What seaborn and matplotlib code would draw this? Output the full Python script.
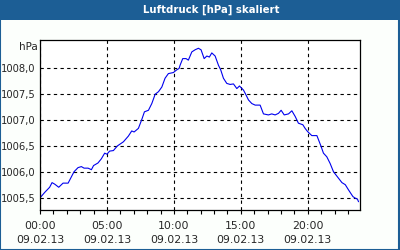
import matplotlib
matplotlib.use("Agg")
import matplotlib.pyplot as plt
import matplotlib.ticker as mticker
from matplotlib.patches import Rectangle
import seaborn as sns
import pandas as pd

title = "Luftdruck [hPa] skaliert"
unit = "hPa"
date_label = "09.02.13"

hours = [0.05, 0.35, 0.72, 0.9, 1.1, 1.4, 1.72, 2.1, 2.34, 2.54, 2.84, 3.09, 3.29, 3.59, 3.84,
         4.0, 4.33, 4.58, 4.83, 5.0, 5.2, 5.48, 5.78, 6.23, 6.6, 6.85, 7.03, 7.35, 7.6, 7.8,
         8.1, 8.35, 8.6, 8.85, 9.1, 9.34, 9.59, 9.96, 10.2, 10.39, 10.46, 10.66, 10.91, 11.08,
         11.34, 11.58, 11.83, 12.03, 12.26, 12.46, 12.65, 12.83, 13.08, 13.33, 13.5, 13.7,
         13.95, 14.2, 14.45, 14.7, 14.9, 15.2, 15.4, 15.57, 15.82, 16.07, 16.44, 16.69, 17.06,
         17.31, 17.56, 17.81, 18.01, 18.24, 18.56, 18.81, 19.06, 19.3, 19.63, 19.8, 19.98,
         20.3, 20.68, 20.98, 21.17, 21.42, 21.67, 21.92, 22.22, 22.55, 22.8, 23.04, 23.37,
         23.54, 23.71, 23.79]
pressure = [1005.51, 1005.60, 1005.70, 1005.79, 1005.76, 1005.70, 1005.78, 1005.78, 1005.90,
            1006.00, 1006.08, 1006.10, 1006.07, 1006.07, 1006.04, 1006.12, 1006.17, 1006.25,
            1006.36, 1006.34, 1006.40, 1006.41, 1006.50, 1006.58, 1006.69, 1006.79, 1006.77,
            1006.84, 1007.01, 1007.16, 1007.19, 1007.32, 1007.50, 1007.55, 1007.64, 1007.81,
            1007.90, 1007.92, 1007.97, 1008.00, 1008.06, 1008.19, 1008.19, 1008.16, 1008.32,
            1008.36, 1008.39, 1008.36, 1008.19, 1008.24, 1008.22, 1008.30, 1008.24, 1008.06,
            1007.97, 1007.81, 1007.71, 1007.69, 1007.70, 1007.61, 1007.66, 1007.58, 1007.48,
            1007.39, 1007.32, 1007.29, 1007.29, 1007.12, 1007.10, 1007.12, 1007.10, 1007.13,
            1007.19, 1007.10, 1007.12, 1007.18, 1007.07, 1006.94, 1006.91, 1006.84, 1006.78,
            1006.70, 1006.70, 1006.50, 1006.36, 1006.29, 1006.16, 1006.00, 1005.90, 1005.79,
            1005.75, 1005.65, 1005.52, 1005.49, 1005.47, 1005.42]

x_major = [0, 5, 10, 15, 20]
x_labels = ["00:00", "05:00", "10:00", "15:00", "20:00"]
y_major = [1005.5, 1006.0, 1006.5, 1007.0, 1007.5, 1008.0]

df = pd.DataFrame({"h": hours, "p": pressure})

sns.set_style("white")
plt.rcParams["font.family"] = ["DejaVu Sans"]

blue = "#1c5e95"
fig = plt.figure(figsize=(4, 2.5), dpi=100, facecolor="#fcfffc")
fig.patches.append(Rectangle((0, 0.92), 1, 0.08, transform=fig.transFigure,
                             facecolor=blue, edgecolor="none", zorder=0))
fig.patches.append(Rectangle((0.001, 0.002), 0.996, 0.996, transform=fig.transFigure,
                             facecolor="none", edgecolor=blue, linewidth=1.5, zorder=5))
fig.text(211 / 400, 0.96, title, color="white", fontsize=7.3, fontweight="bold",
         ha="center", va="center")

ax = fig.add_axes([0.1, 0.16, 0.8, 0.68])
ax.set_facecolor("white")
sns.lineplot(data=df, x="h", y="p", ax=ax, color="#0000ee", linewidth=0.8)
ax.set_xlim(0, 23.9)
ax.set_ylim(1005.26, 1008.55)
ax.set_xlabel("")
ax.set_ylabel("")

ax.xaxis.set_major_locator(mticker.FixedLocator(x_major))
ax.xaxis.set_minor_locator(mticker.MultipleLocator(1))
ax.set_xticklabels([f"{a}\n{date_label}" for a in x_labels])
ax.yaxis.set_major_locator(mticker.FixedLocator(y_major))
ax.set_yticklabels([f"{v:.1f}".replace(".", ",") for v in y_major])

ax.tick_params(axis="x", which="both", direction="out", length=3, width=0.8,
               color="black", labelsize=7.8, pad=5, bottom=True)
ax.tick_params(axis="y", which="both", length=0, labelsize=7.2, pad=3)
for lbl in ax.get_xticklabels():
    lbl.set_linespacing(1.45)

ax.grid(True, which="major", color="black", linestyle=(0, (3, 3)), linewidth=0.8)
for s in ax.spines.values():
    s.set_visible(True)
    s.set_color("black")
    s.set_linewidth(0.9)

fig.text(38 / 400, 1 - 47 / 250, unit, fontsize=7.5, ha="right", va="center")

fig.savefig("out.png", dpi=100, facecolor=fig.get_facecolor())
